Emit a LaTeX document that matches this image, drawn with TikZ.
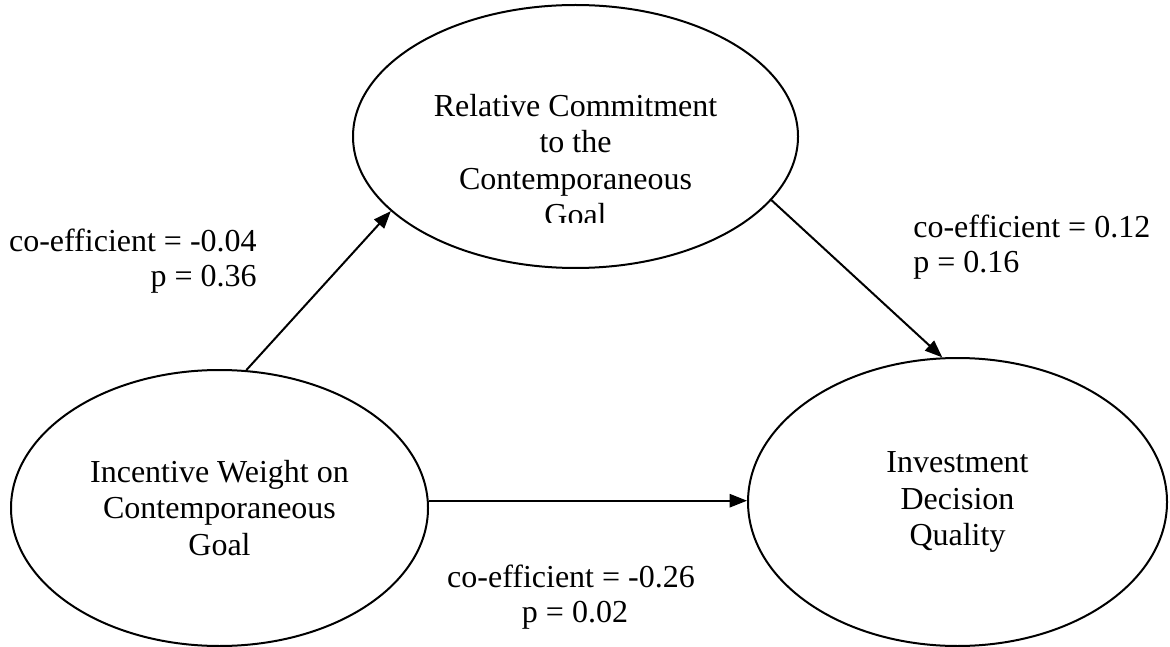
\documentclass[tikz,border=0pt]{standalone}
\usepackage{fontspec}
\setmainfont{Liberation Serif}[Ligatures=NoCommon]
\usetikzlibrary{shapes.geometric,arrows.meta,calc}

\begin{document}
\begin{tikzpicture}[x=0.6pt,y=-0.6pt,
  every node/.style={font=\fontsize{19.2}{21.9}\selectfont},
  latent/.style={draw, ellipse, line width=1.2pt, inner sep=0pt, align=center},
  effect/.style={line width=1.2pt, -{Triangle[length=10.5pt,width=8pt]}},
  lab/.style={inner sep=0pt}]
\useasboundingbox (0,0) rectangle (1170,647);

% latent constructs
\node[latent, minimum width=267pt, minimum height=157.8pt] (rel) at (575.5,136.5) {};
\node[latent, minimum width=250.2pt, minimum height=165.6pt] (inc) at (219.5,508)
  {Incentive Weight on\\Contemporaneous\\Goal};
\node[latent, minimum width=251.4pt, minimum height=172.8pt] (inv) at (957.5,502)
  {Investment\\Decision\\Quality};

% mediator label, cut off at the bottom of its text frame
\begin{scope}
  \clip (0,0) rectangle (1170,222.5);
  \node[align=center, inner sep=0pt] (reltext) at ($(rel.center)+(0,23.5)$)
    {Relative Commitment\\to the\\Contemporaneous\\Goal};
\end{scope}

% paths
\draw[effect] (inc.79.5) -- (rel.202.4);
\draw[effect] (rel.342.7) -- (inv.96.5);
\draw[effect] (inc.2.2) -- (inc.2.2 -| inv.west);

% path coefficients
\node[lab, anchor=base east] (c1a) at (257,252) {co-efficient = -0.04};
\node[lab, anchor=base east] (c1b) at (257,287) {p = 0.36};
\node[lab, anchor=base west] (c2a) at (913,238) {co-efficient = 0.12};
\node[lab, anchor=base west] (c2b) at (913,273) {p = 0.16};
\node[lab, anchor=base] (c3a) at (571,587) {co-efficient = -0.26};
\node[lab, anchor=base] (c3b) at (575,622) {p = 0.02};
\end{tikzpicture}
\end{document}
